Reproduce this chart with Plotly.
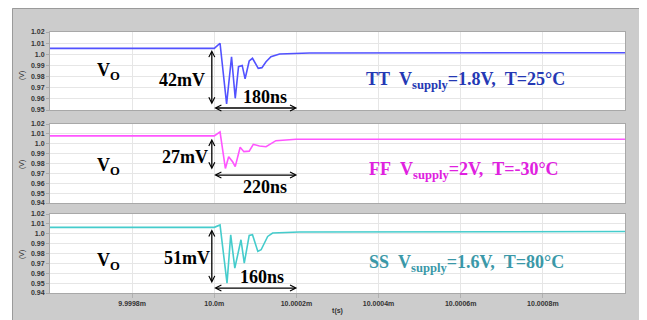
import plotly.graph_objects as go

# ---------------- data (time in ns relative to 10.0 ms) ----------------
tt_time = [-400, 0, 14, 30, 42, 51, 59, 68, 75, 85, 93, 107, 116, 126, 138, 159, 232, 600, 1000]
tt_volt = [1.0053, 1.0053, 1.0099, 0.9554, 0.9978, 0.9605, 0.9889, 0.9900, 0.9780, 0.9940,
           0.9964, 0.9874, 0.9880, 0.9933, 0.9978, 1.0003, 1.0012, 1.0014, 1.0014]

ff_time = [-400, 0, 14, 27, 35, 45, 51, 63, 72, 85, 95, 110, 126, 150, 199, 600, 1000]
ff_volt = [1.0080, 1.0080, 1.0121, 0.9750, 0.9869, 0.9815, 0.9768, 0.9964, 0.9920, 0.9925,
           0.9994, 0.9977, 0.9970, 1.0031, 1.0045, 1.0046, 1.0046]

ss_time = [-400, 0, 14, 31, 40, 50, 65, 73, 85, 93, 106, 114, 130, 142, 207, 600, 1000]
ss_volt = [1.0065, 1.0065, 1.0089, 0.9499, 0.9989, 0.9652, 0.9939, 0.9703, 0.9983, 0.9990,
           0.9821, 0.9838, 0.9973, 1.0007, 1.0017, 1.0022, 1.0023]

x_tickvals = [-200, 0, 200, 400, 600, 800]
x_ticktext = ["9.9998m", "10.0m", "10.0002m", "10.0004m", "10.0006m", "10.0008m"]

y1_tickvals = [0.95, 0.96, 0.97, 0.98, 0.99, 1.00, 1.01, 1.02]
y1_ticktext = ["0.95", "0.96", "0.97", "0.98", "0.99", "1.0", "1.01", "1.02"]
y2_tickvals = [0.94, 0.95, 0.96, 0.97, 0.98, 0.99, 1.00, 1.01, 1.02]
y2_ticktext = ["0.94", "0.95", "0.96", "0.97", "0.98", "0.99", "1.0", "1.01", "1.02"]

labels = ["TT\u00a0\u00a0V<sub>supply</sub>=1.8V,\u00a0\u00a0T=25°C",
          "FF\u00a0\u00a0V<sub>supply</sub>=2V,\u00a0\u00a0T=-30°C",
          "SS\u00a0\u00a0V<sub>supply</sub>=1.6V,\u00a0\u00a0T=80°C"]
drops = ["42mV", "27mV", "51mV"]
settles = ["180ns", "220ns", "160ns"]

line_colors = ["#5252ff", "#ff55ff", "#45cccc"]
text_colors = ["#2438b4", "#e020e0", "#3a98a8"]

# ---------------- figure ----------------
# page body has an 8px margin, so the figure is offset by 8px in the window
OFF = 8
W, H = 647 - OFF, 320 - OFF
ML, MR, MT, MB = 50 - OFF, 22, 32 - OFF, 27
PW, PH = W - ML - MR, H - MT - MB

def px(x):   # window pixel x -> paper
    return (x - OFF - ML) / PW

def py(y):   # window pixel y -> paper
    return (H - MB - (y - OFF)) / PH

fig = go.Figure()
series = [(tt_time, tt_volt), (ff_time, ff_volt), (ss_time, ss_volt)]
for i, (t, v) in enumerate(series):
    sfx = "" if i == 0 else str(i + 1)
    fig.add_trace(go.Scatter(x=t, y=v, mode="lines",
                             line=dict(color=line_colors[i], width=1.6),
                             xaxis="x" + sfx, yaxis="y" + sfx, showlegend=False,
                             hoverinfo="skip"))

domains = [[py(110), py(32)], [py(203), py(124)], [py(293), py(214)]]
yranges = [[0.95, 1.02], [0.94, 1.02], [0.94, 1.02]]
ytv = [(y1_tickvals, y1_ticktext), (y2_tickvals, y2_ticktext), (y2_tickvals, y2_ticktext)]

tickfont = dict(family="Liberation Sans, Arial", size=7, color="#333333", weight="bold")
layout = dict(
    width=W, height=H,
    margin=dict(l=ML, r=MR, t=MT, b=MB, autoexpand=False),
    paper_bgcolor="#cccccc", plot_bgcolor="#ffffff",
    showlegend=False,
)
for i in range(3):
    sfx = "" if i == 0 else str(i + 1)
    layout["xaxis" + sfx] = dict(
        range=[-400, 1000], tickvals=x_tickvals,
        ticktext=x_ticktext if i == 2 else [""] * len(x_tickvals),
        showticklabels=(i == 2),
        showgrid=True, gridcolor="#e6e6e6", gridwidth=1,
        showline=True, mirror=True, linecolor="#a8a8a8", linewidth=1,
        zeroline=False, ticks="outside" if i == 2 else "", ticklen=4, tickcolor="#b0b0b0",
        tickfont=tickfont,
        anchor="y" + sfx,
        title=dict(text="t(s)", font=dict(family="Liberation Sans, Arial", size=7,
                                           color="#333333", weight="bold"), standoff=1) if i == 2 else None,
    )
    layout["yaxis" + sfx] = dict(
        domain=domains[i], range=yranges[i],
        tickvals=ytv[i][0], ticktext=ytv[i][1],
        showgrid=True, gridcolor="#e6e6e6", gridwidth=1,
        showline=True, mirror=True, linecolor="#a8a8a8", linewidth=1,
        zeroline=False, ticks="outside", ticklen=3, tickcolor="#a8a8a8",
        tickfont=tickfont, anchor="x" + sfx,
    )
fig.update_layout(**layout)

# background framing (white outside the gray window, and border)
shapes = [
    dict(type="rect", xref="paper", yref="paper", x0=px(0), x1=px(12), y0=py(340), y1=py(-5),
         fillcolor="#ffffff", line=dict(width=0), layer="below"),
    dict(type="rect", xref="paper", yref="paper", x0=px(644), x1=px(660), y0=py(340), y1=py(-5),
         fillcolor="#ffffff", line=dict(width=0), layer="below"),
    dict(type="rect", xref="paper", yref="paper", x0=px(12.5), x1=px(644), y0=py(340), y1=py(8.5),
         fillcolor="rgba(0,0,0,0)", line=dict(color="#9a9a9a", width=1), layer="below"),
]
fig.update_layout(shapes=shapes)

serif = "Liberation Serif, Times New Roman, serif"
ann = []
# (V) labels
for yc in [76, 165, 255]:
    ann.append(dict(text="(V)", xref="paper", yref="paper", x=px(22), y=py(yc),
                    xanchor="center", yanchor="middle",
                    showarrow=False, textangle=-90,
                    font=dict(family="Liberation Sans, Arial", size=7, color="#333333")))

# per panel text centers in window pixels -> paper coords
vo_y = [72, 166, 261]
drop_y = [80, 157, 258]
drop_x = [182, 185, 187]
settle_y = [97, 187, 277]
settle_x = [265, 265, 262]
lab_y = [80, 170, 263]
lab_x = [465, 464, 466]
varrow = [(1.0053, 0.955), (1.0065, 0.974), (1.0060, 0.950)]
harrow_v = [0.9518, 0.9683, 0.945]

def txt(text, x, y, color):
    return dict(text=text, xref="paper", yref="paper", x=px(x), y=py(y),
                xanchor="center", yanchor="middle", showarrow=False,
                font=dict(family=serif, size=18, color=color, weight="bold"))

for i in range(3):
    sfx = "" if i == 0 else str(i + 1)
    ann.append(txt("V<sub>O</sub>", 108, vo_y[i], "black"))
    ann.append(txt(drops[i], drop_x[i], drop_y[i], "black"))
    ann.append(txt(settles[i], settle_x[i], settle_y[i], "black"))
    ann.append(txt(labels[i], lab_x[i], lab_y[i], text_colors[i]))
    # vertical double arrow (drop)
    ann.append(dict(text="", xref="x" + sfx, yref="y" + sfx, axref="x" + sfx, ayref="y" + sfx,
                    x=-6, y=varrow[i][1], ax=-6, ay=varrow[i][0],
                    showarrow=True, arrowhead=5, startarrowhead=5, arrowside="end+start",
                    arrowwidth=1.3, arrowsize=0.9, startarrowsize=0.9, arrowcolor="black",
                    standoff=0, startstandoff=0))
    # horizontal double arrow (settling)
    ann.append(dict(text="", xref="x" + sfx, yref="y" + sfx, axref="x" + sfx, ayref="y" + sfx,
                    x=202, y=harrow_v[i], ax=-4, ay=harrow_v[i],
                    showarrow=True, arrowhead=5, startarrowhead=5, arrowside="end+start",
                    arrowwidth=1.3, arrowsize=0.9, startarrowsize=0.9, arrowcolor="black",
                    standoff=0, startstandoff=0))
fig.update_layout(annotations=ann)

fig.write_html("out.html")
